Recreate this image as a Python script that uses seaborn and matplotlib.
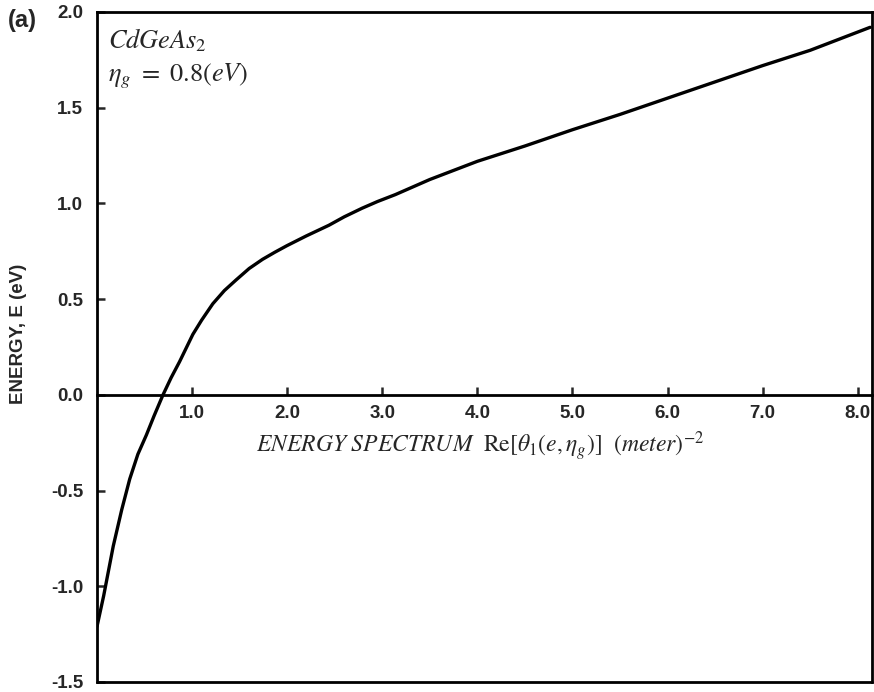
import matplotlib
matplotlib.use("Agg")
import matplotlib.pyplot as plt
import seaborn as sns
import pandas as pd

# ---- data ----
spectrum = [0.0, 0.07, 0.171, 0.26, 0.344, 0.43, 0.519, 0.60, 0.694, 0.78,
            0.868, 1.008, 1.10, 1.218, 1.34, 1.462, 1.60, 1.741, 1.87, 1.996,
            2.20, 2.439, 2.60, 2.788, 2.95, 3.137, 3.50, 4.0, 4.5, 5.0, 5.5,
            6.0, 6.5, 7.0, 7.5, 8.13]
energy = [-1.21, -1.05, -0.79, -0.60, -0.44, -0.31, -0.21, -0.11, 0.0, 0.09,
          0.173, 0.316, 0.39, 0.476, 0.545, 0.600, 0.66, 0.708, 0.745, 0.779,
          0.83, 0.886, 0.93, 0.975, 1.01, 1.046, 1.125, 1.22, 1.30, 1.385,
          1.465, 1.55, 1.635, 1.72, 1.80, 1.92]
x_ticks = [1, 2, 3, 4, 5, 6, 7, 8]
x_tick_labels = ["1.0", "2.0", "3.0", "4.0", "5.0", "6.0", "7.0", "8.0"]
y_ticks = [-1.5, -1.0, -0.5, 0.0, 0.5, 1.0, 1.5, 2.0]
y_tick_labels = ["-1.5", "-1.0", "-0.5", "0.0", "0.5", "1.0", "1.5", "2.0"]

df = pd.DataFrame({"spectrum": spectrum, "energy": energy})

sns.set_style("ticks")
plt.rcParams["font.family"] = ["Liberation Sans", "DejaVu Sans"]
plt.rcParams["mathtext.fontset"] = "stix"

fig = plt.figure(figsize=(8.74, 6.92), dpi=100)
ax = fig.add_axes([97 / 874, 10 / 692, 775 / 874, 670 / 692])

sns.lineplot(data=df, x="spectrum", y="energy", ax=ax, color="black",
             linewidth=2.4, estimator=None, sort=False)

ax.set_xlim(0, 8.15)
ax.set_ylim(-1.5, 2.0)

for s in ["left", "right", "top"]:
    ax.spines[s].set_linewidth(2.0)
    ax.spines[s].set_color("black")
ax.spines["bottom"].set_position(("data", 0))
ax.spines["bottom"].set_linewidth(2.0)
ax.spines["bottom"].set_color("black")
# bottom border of the box
ax.plot([0, 1], [0, 0], transform=ax.transAxes, color="black", lw=2.0,
        clip_on=False)

ax.set_xticks(x_ticks)
ax.set_xticklabels(x_tick_labels)
ax.set_yticks(y_ticks)
ax.set_yticklabels(y_tick_labels)
ax.tick_params(axis="both", direction="in", length=6, width=1.8,
               labelsize=13.5)
ax.tick_params(axis="x", pad=7)
ax.tick_params(axis="y", pad=10)
for lab in ax.get_xticklabels() + ax.get_yticklabels():
    lab.set_fontweight("bold")

ax.set_xlabel(r"$\mathit{ENERGY\ SPECTRUM}\ \ \mathrm{Re}[\theta_1(e,\eta_g)]\ \ (\mathit{meter})^{-2}$",
              fontsize=17, va="top")
ax.xaxis.set_label_coords(0.494, 0.377)

ax.set_ylabel("ENERGY, E (eV)", fontsize=13.5, fontweight="bold")
ax.yaxis.set_label_coords(-0.09, 0.52)

ax.text(0.014, 0.946, r"$\mathit{CdGeAs}_2$", transform=ax.transAxes,
        fontsize=19, ha="left", va="baseline")
ax.text(0.014, 0.896, r"$\eta_g\ =\ 0.8(eV)$", transform=ax.transAxes,
        fontsize=19, ha="left", va="baseline")

fig.text(22 / 874, 1 - 21 / 692, "(a)", fontsize=17, fontweight="bold",
         ha="center", va="center")

fig.savefig("out.png", dpi=100)
